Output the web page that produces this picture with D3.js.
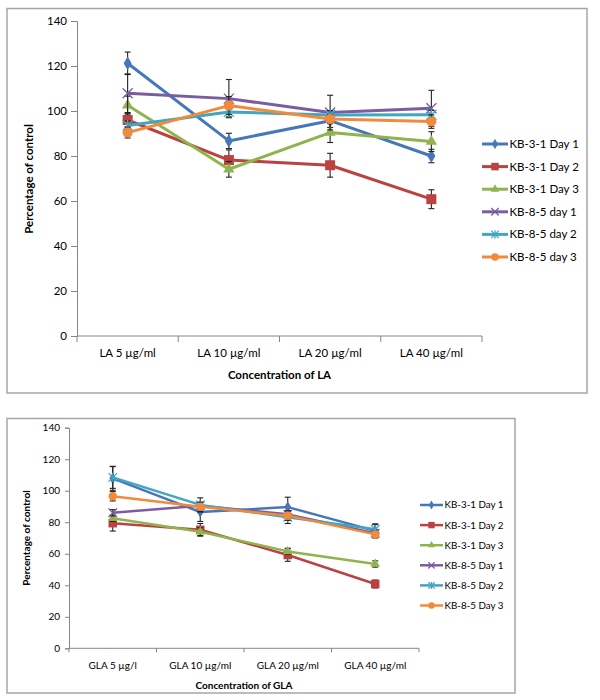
<!DOCTYPE html>
<html><head><meta charset="utf-8">
<script src="https://cdn.jsdelivr.net/npm/d3@7"></script>
<style>body{margin:0;background:#fff}svg{display:block}text{font-family:Lato,"Noto Sans",sans-serif;fill:#000}</style>
</head><body><svg id="c" width="600" height="700"></svg>
<script>
// ---------- data ----------
const laCategories = ["LA 5 µg/ml", "LA 10 µg/ml", "LA 20 µg/ml", "LA 40 µg/ml"];
const glaCategories = ["GLA 5 µg/l", "GLA 10 µg/ml", "GLA 20 µg/ml", "GLA 40 µg/ml"];
const laSeriesNames = ["KB-3-1 Day 1", "KB-3-1 Day 2", "KB-3-1 Day 3", "KB-8-5 day 1", "KB-8-5 day 2", "KB-8-5 day 3"];
const glaSeriesNames = ["KB-3-1 Day 1", "KB-3-1 Day 2", "KB-3-1 Day 3", "KB-8-5 Day 1", "KB-8-5 Day 2", "KB-8-5 Day 3"];
const yTickValues = [0, 20, 40, 60, 80, 100, 120, 140];

const la_kb31_d1 = [121.2, 86.7, 95.7, 80.0];
const la_kb31_d2 = [96.0, 78.2, 75.9, 60.8];
const la_kb31_d3 = [102.6, 74.1, 90.4, 86.4];
const la_kb85_d1 = [107.9, 105.5, 99.3, 101.2];
const la_kb85_d2 = [93.6, 99.6, 98.2, 98.3];
const la_kb85_d3 = [90.4, 102.4, 96.4, 95.3];
const la_err_kb31_d1 = [5.0, 3.4, 3.0, 3.0];
const la_err_kb31_d2 = [3.0, 4.5, 5.3, 4.2];
const la_err_kb31_d3 = [4.0, 3.5, 4.4, 4.4];
const la_err_kb85_d1 = [8.6, 8.5, 7.7, 8.0];
const la_err_kb85_d2 = [2.0, 2.2, 2.0, 2.0];
const la_err_kb85_d3 = [2.4, 4.0, 2.0, 3.0];

const gla_kb31_d1 = [107.8, 86.5, 89.6, 74.5];
const gla_kb31_d2 = [79.4, 75.2, 59.2, 40.8];
const gla_kb31_d3 = [82.5, 74.0, 61.5, 53.5];
const gla_kb85_d1 = [86.0, 90.5, 85.0, 73.0];
const gla_kb85_d2 = [108.5, 91.0, 83.2, 75.5];
const gla_kb85_d3 = [96.5, 89.8, 84.2, 72.3];
const gla_err_kb31_d1 = [7.5, 6.0, 6.3, 4.5];
const gla_err_kb31_d2 = [5.0, 4.0, 4.0, 2.5];
const gla_err_kb31_d3 = [2.0, 2.5, 2.0, 2.0];
const gla_err_kb85_d1 = [2.0, 2.0, 2.0, 2.0];
const gla_err_kb85_d2 = [7.0, 4.5, 4.0, 3.0];
const gla_err_kb85_d3 = [3.0, 3.0, 3.0, 2.0];

// ---------- style ----------
const colors = ["#4677bb", "#bb4240", "#8fb44e", "#7b5ca0", "#40a6c2", "#f28a3c"];
const shapes = ["diamond", "square", "triangle", "x", "star", "circle"];

const svg = d3.select("#c");

function marker(g, shape, x, y, s, color) {
  if (shape === "x" || shape === "star") {
    const h = s / 2;
    let d = `M${x-h},${y-h}L${x+h},${y+h}M${x-h},${y+h}L${x+h},${y-h}`;
    if (shape === "star") d += `M${x},${y-h*1.1}L${x},${y+h*1.1}`;
    g.append("path").attr("d", d).attr("stroke", color).attr("stroke-width", 1.3).attr("fill", "none");
    return;
  }
  const map = {diamond: d3.symbolDiamond, square: d3.symbolSquare, triangle: d3.symbolTriangle, circle: d3.symbolCircle};
  const area = {diamond: s * s * 0.55, square: s * s, triangle: s * s * 0.55, circle: Math.PI * s * s / 4}[shape];
  g.append("path").attr("d", d3.symbol().type(map[shape]).size(area)())
    .attr("transform", `translate(${x},${y})`).attr("fill", color);
}

function drawChart(o) {
  const g = svg.append("g");
  g.append("rect").attr("x", o.box[0]).attr("y", o.box[1]).attr("width", o.box[2]).attr("height", o.box[3])
    .attr("fill", "#fff").attr("stroke", "#a6a6a6").attr("stroke-width", 1.5);

  const x = d3.scaleBand().domain(o.categories).range([o.x0, o.x1]).padding(0);
  const y = d3.scaleLinear().domain([0, 140]).range([o.yb, o.yt]);

  // y axis
  const ya = g.append("g").attr("transform", `translate(${o.x0},0)`)
    .call(d3.axisLeft(y).tickValues(yTickValues).tickSize(o.tick).tickPadding(o.pad));
  ya.select(".domain").attr("stroke", "#868686");
  ya.selectAll(".tick line").attr("stroke", "#868686");
  ya.selectAll("text").attr("font-size", o.fs).attr("font-family", "Lato").attr("fill", "#000");

  // x axis (labels centred, tick marks at band boundaries)
  const xa = g.append("g").attr("transform", `translate(0,${o.yb})`)
    .call(d3.axisBottom(x).tickSize(0).tickPadding(o.xpad));
  xa.select(".domain").attr("stroke", "#868686").attr("d", `M${o.x0},0H${o.x1}`);
  xa.selectAll("text").attr("font-size", o.fs).attr("font-family", "Lato").attr("fill", "#000");
  const bounds = o.categories.map(c => x(c)).concat([x(o.categories[o.categories.length - 1]) + x.bandwidth()]);
  xa.selectAll("line.bt").data(bounds).enter().append("line").attr("class", "bt")
    .attr("x1", d => d).attr("x2", d => d).attr("y1", 0).attr("y2", o.tick).attr("stroke", "#868686");

  // titles
  g.append("text").attr("x", (o.x0 + o.x1) / 2).attr("y", o.xtY).attr("text-anchor", "middle")
    .attr("font-weight", "bold").attr("font-size", o.fs).text(o.xTitle);
  g.append("text").attr("transform", `translate(${o.ytX},${o.ytY}) rotate(-90)`).attr("text-anchor", "middle")
    .attr("font-weight", "bold").attr("font-size", o.fs).text("Percentage of control");

  const cx = c => x(c) + x.bandwidth() / 2;
  const line = d3.line().x((d, i) => cx(o.categories[i])).y(d => y(d));

  o.series.forEach((vals, si) => {
    const sg = g.append("g");
    sg.append("path").attr("d", line(vals)).attr("fill", "none").attr("stroke", colors[si])
      .attr("stroke-width", o.lw).attr("stroke-linejoin", "round");
    vals.forEach((v, i) => {
      const e = o.errors[si][i];
      const px = cx(o.categories[i]);
      const eg = sg.append("g").attr("stroke", "#222").attr("stroke-width", 1.1);
      eg.append("line").attr("x1", px).attr("x2", px).attr("y1", y(v + e)).attr("y2", y(v - e));
      eg.append("line").attr("x1", px - 3).attr("x2", px + 3).attr("y1", y(v + e)).attr("y2", y(v + e));
      eg.append("line").attr("x1", px - 3).attr("x2", px + 3).attr("y1", y(v - e)).attr("y2", y(v - e));
    });
    vals.forEach((v, i) => marker(sg, shapes[si], cx(o.categories[i]), y(v), o.ms, colors[si]));
  });

  // legend
  o.names.forEach((n, i) => {
    const ly = o.legY + i * o.legStep;
    const lg = g.append("g");
    lg.append("line").attr("x1", o.legX).attr("x2", o.legX + o.legLen).attr("y1", ly).attr("y2", ly)
      .attr("stroke", colors[i]).attr("stroke-width", o.lw);
    marker(lg, shapes[i], o.legX + o.legLen / 2, ly, o.ms * 0.75, colors[i]);
    lg.append("text").attr("x", o.legX + o.legLen + 1.5).attr("y", ly).attr("dy", "0.35em")
      .attr("font-size", o.legFs).text(n);
  });
}

drawChart({
  box: [7, 8.5, 580, 384.5], categories: laCategories, names: laSeriesNames,
  series: [la_kb31_d1, la_kb31_d2, la_kb31_d3, la_kb85_d1, la_kb85_d2, la_kb85_d3],
  errors: [la_err_kb31_d1, la_err_kb31_d2, la_err_kb31_d3, la_err_kb85_d1, la_err_kb85_d2, la_err_kb85_d3],
  x0: 77, x1: 482, yb: 336, yt: 21, tick: 6, pad: 4, xpad: 13, fs: 11.5,
  xTitle: "Concentration of LA", xtY: 379, ytX: 33, ytY: 179,
  lw: 3, ms: 10, legX: 482, legLen: 26, legY: 144, legStep: 22.6, legFs: 11.5
});

drawChart({
  box: [7, 418.5, 508, 274.5], categories: glaCategories, names: glaSeriesNames,
  series: [gla_kb31_d1, gla_kb31_d2, gla_kb31_d3, gla_kb85_d1, gla_kb85_d2, gla_kb85_d3],
  errors: [gla_err_kb31_d1, gla_err_kb31_d2, gla_err_kb31_d3, gla_err_kb85_d1, gla_err_kb85_d2, gla_err_kb85_d3],
  x0: 69, x1: 419, yb: 648.3, yt: 427.7, tick: 4, pad: 5, xpad: 14, fs: 10,
  xTitle: "Concentration of GLA", xtY: 689, ytX: 30, ytY: 538,
  lw: 2.5, ms: 8.5, legX: 420, legLen: 23, legY: 505, legStep: 20.1, legFs: 9.8
});
</script></body></html>
